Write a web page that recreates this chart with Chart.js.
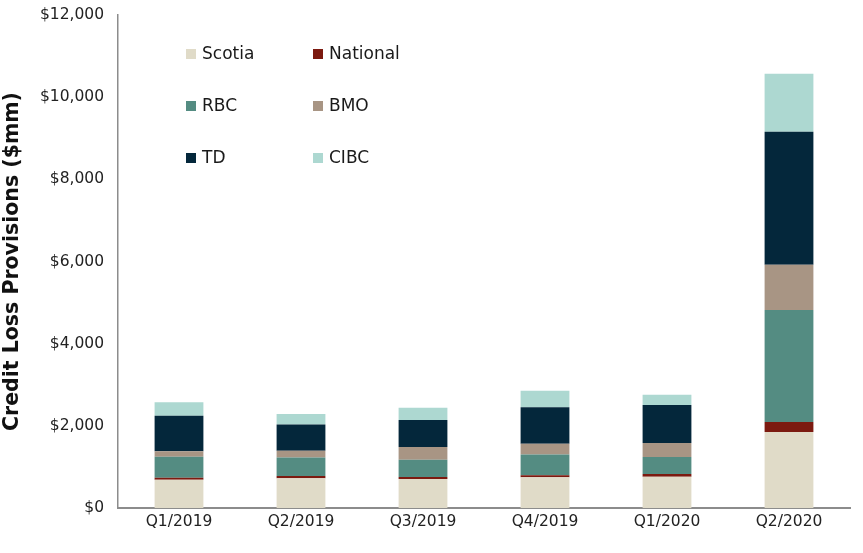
<!DOCTYPE html>
<html>
<head>
<meta charset="utf-8">
<script src="https://cdn.jsdelivr.net/npm/chart.js@4"></script>
<style>
  html, body { margin: 0; padding: 0; background: #fff; }
  #wrap { width: 863px; height: 553px; position: relative; }
</style>
</head>
<body>
<div id="wrap"><canvas id="chart"></canvas></div>
<script>
// Quarter labels
const quarters = ['Q1/2019', 'Q2/2019', 'Q3/2019', 'Q4/2019', 'Q1/2020', 'Q2/2020'];

// Provisions per bank, $mm
const scotia   = [689, 722, 706, 747, 762, 1849];
const national = [50, 55, 50, 50, 66, 243];
const rbc      = [511, 455, 421, 504, 414, 2725];
const bmo      = [130, 161, 309, 260, 341, 1103];
const td       = [868, 642, 657, 891, 925, 3236];
const cibc     = [324, 251, 300, 399, 251, 1411];

const yTicks = [0, 2000, 4000, 6000, 8000, 10000, 12000];

const FONT = '"DejaVu Sans", Verdana, sans-serif';

// Legend drawn as 2 columns x 3 rows inside the plot
const gridLegend = {
    id: 'gridLegend',
    afterDraw(chart) {
        const ctx = chart.ctx;
        const cols = [186, 313];
        const rows = [54, 106, 158];
        ctx.save();
        ctx.font = '17px ' + FONT;
        ctx.textBaseline = 'middle';
        chart.data.datasets.forEach((ds, i) => {
            const x = cols[i % 2];
            const y = rows[Math.floor(i / 2)];
            ctx.fillStyle = ds.backgroundColor;
            ctx.fillRect(x, y - 5, 10, 10);
            ctx.fillStyle = '#1a1a1a';
            ctx.fillText(ds.label, x + 16, y + 1);
        });
        ctx.restore();
    }
};

function makeSet(label, data, color) {
    return {
        label: label,
        data: data,
        backgroundColor: color,
        borderWidth: 0,
        barPercentage: 0.4,
        categoryPercentage: 1.0
    };
}

new Chart(document.getElementById('chart'), {
    type: 'bar',
    data: {
        labels: quarters,
        datasets: [
            makeSet('Scotia', scotia, '#e0dbc8'),
            makeSet('National', national, '#7c1a10'),
            makeSet('RBC', rbc, '#548c82'),
            makeSet('BMO', bmo, '#a89584'),
            makeSet('TD', td, '#04273b'),
            makeSet('CIBC', cibc, '#add8d1')
        ]
    },
    options: {
        responsive: true,
        maintainAspectRatio: false,
        animation: false,
        layout: { padding: { top: 15, right: 13, left: 0, bottom: 0 } },
        plugins: {
            legend: { display: false },
            tooltip: { enabled: false }
        },
        scales: {
            x: {
                stacked: true,
                grid: { display: false, drawTicks: false },
                border: { color: '#8c8c8c', width: 2 },
                ticks: { color: '#222', font: { family: FONT, size: 15.5 }, padding: 5 },
                afterFit(scale) { scale.height = 45; }
            },
            y: {
                stacked: true,
                min: 0,
                max: 12000,
                afterBuildTicks(scale) { scale.ticks = yTicks.map(v => ({ value: v })); },
                grid: { display: false, drawTicks: false },
                border: { color: '#8c8c8c', width: 1.5 },
                ticks: {
                    color: '#222',
                    font: { family: FONT, size: 15.5 },
                    padding: 14,
                    callback: v => '$' + v.toLocaleString('en-US')
                },
                title: {
                    display: true,
                    text: 'Credit Loss Provisions ($mm)',
                    color: '#111',
                    font: { family: FONT, size: 20.5, weight: 'bold' },
                    padding: { top: 0, bottom: 2 }
                },
                afterFit(scale) {
                    scale.width = 118;
                    scale.paddingTop = 0;
                    scale.paddingBottom = 0;
                }
            }
        }
    },
    plugins: [gridLegend]
});
</script>
</body>
</html>
